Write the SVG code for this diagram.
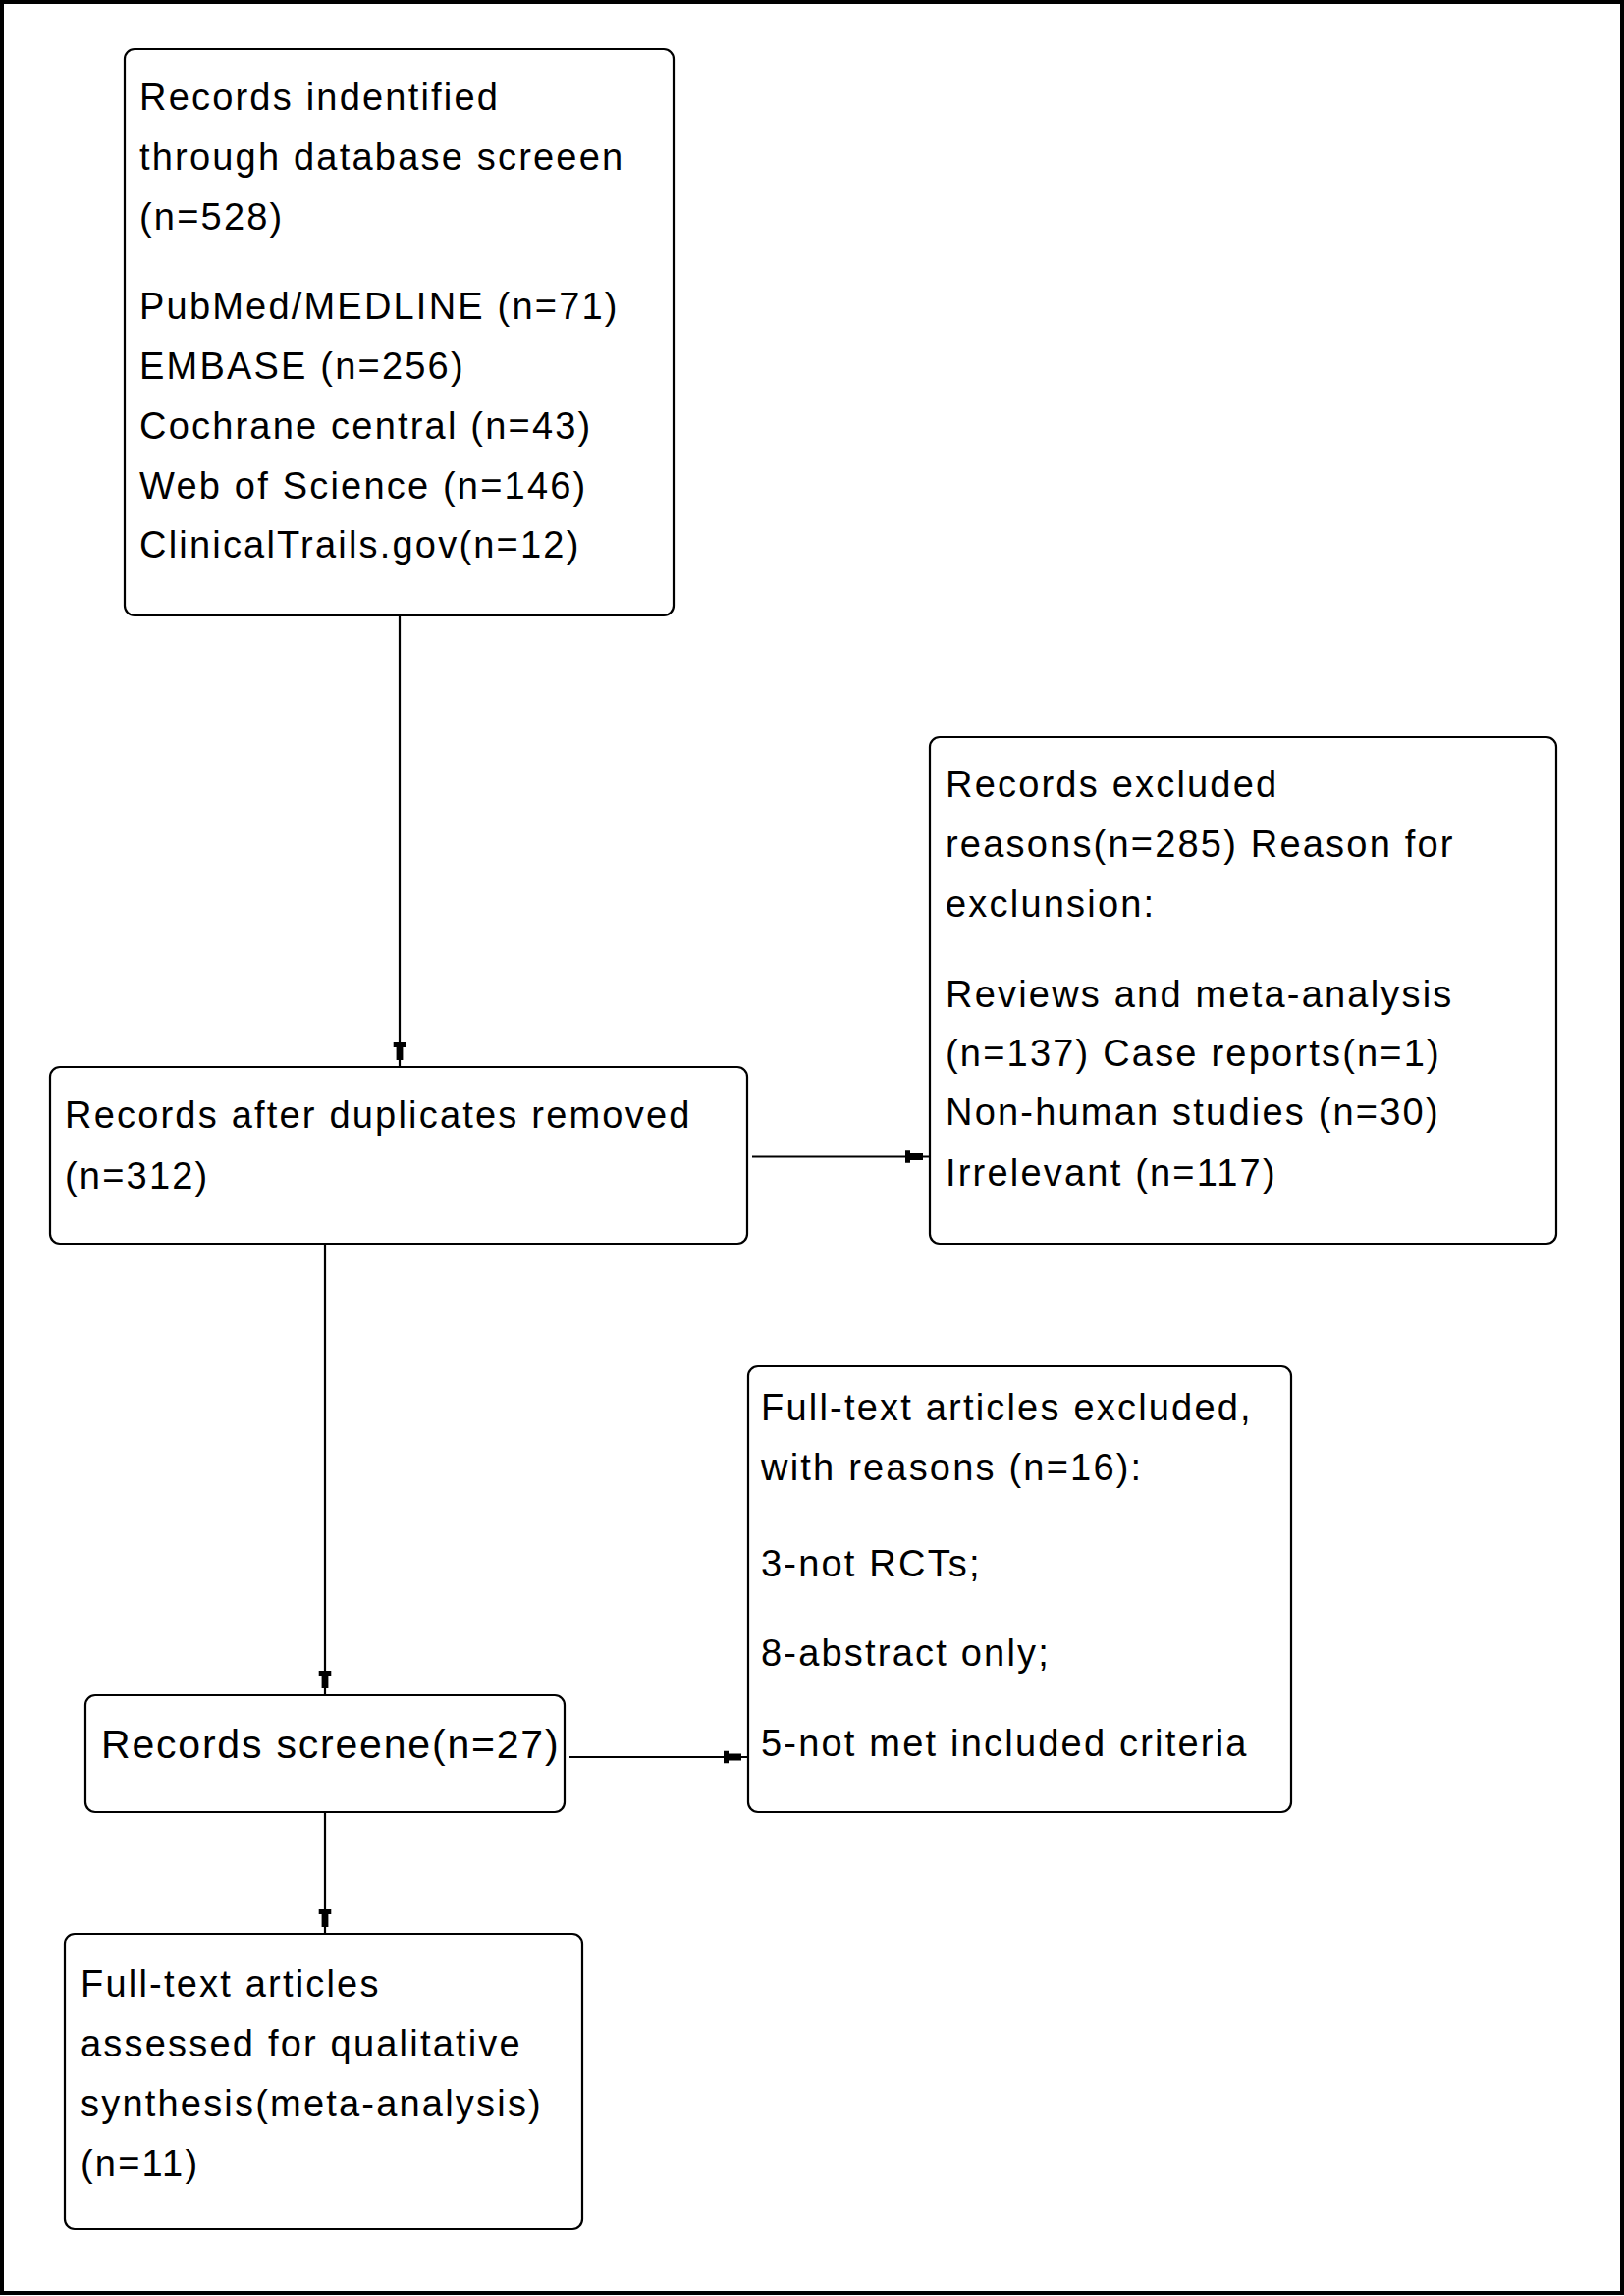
<svg xmlns="http://www.w3.org/2000/svg" width="1654" height="2339" viewBox="0 0 1654 2339">
<style>
.frame{fill:#fff;stroke:#000;stroke-width:4}
.box{fill:#fff;stroke:#000;stroke-width:2.2}
.t{font-family:"Liberation Sans",Arial,sans-serif;font-size:38px;letter-spacing:2.2px;fill:#000}
.big{font-size:41px;letter-spacing:1.8px}
.c{fill:none;stroke:#000;stroke-width:2.2}
</style>
<defs>
<marker id="ah" markerUnits="userSpaceOnUse" viewBox="-27 -8 28 16" markerWidth="28" markerHeight="16" refX="0" refY="0" orient="auto">
<path d="M-25,-6.3 H-20 V-3.4 H-7 V3.4 H-20 V6.3 H-25 Z" fill="#000"/>
</marker>
</defs>
<rect class="frame" x="2" y="2" width="1650" height="2334"/>
<g id="connectors">
<line class="c" x1="407" y1="627" x2="407" y2="1087" marker-end="url(#ah)"/>
<line class="c" x1="766" y1="1178.5" x2="947" y2="1178.5" marker-end="url(#ah)"/>
<line class="c" x1="331" y1="1267" x2="331" y2="1727" marker-end="url(#ah)"/>
<line class="c" x1="580" y1="1790" x2="762" y2="1790" marker-end="url(#ah)"/>
<line class="c" x1="331" y1="1846" x2="331" y2="1970" marker-end="url(#ah)"/>
</g>
<g id="identified">
<rect class="box" x="127" y="50" width="559" height="577" rx="10"/>
<text class="t" x="142" y="112">Records indentified</text>
<text class="t" x="142" y="173">through database screeen</text>
<text class="t" x="142" y="234">(n=528)</text>
<text class="t" x="142" y="325">PubMed/MEDLINE (n=71)</text>
<text class="t" x="142" y="386">EMBASE (n=256)</text>
<text class="t" x="142" y="447">Cochrane central (n=43)</text>
<text class="t" x="142" y="508">Web of Science (n=146)</text>
<text class="t" x="142" y="568">ClinicalTrails.gov(n=12)</text>
</g>
<g id="duplicates">
<rect class="box" x="51" y="1087" width="710" height="180" rx="10"/>
<text class="t" x="66" y="1149">Records after duplicates removed</text>
<text class="t" x="66" y="1211">(n=312)</text>
</g>
<g id="excluded">
<rect class="box" x="947" y="751" width="638" height="516" rx="10"/>
<text class="t" x="963" y="812">Records excluded</text>
<text class="t" x="963" y="873">reasons(n=285) Reason for</text>
<text class="t" x="963" y="934">exclunsion:</text>
<text class="t" x="963" y="1026">Reviews and meta-analysis</text>
<text class="t" x="963" y="1086">(n=137) Case reports(n=1)</text>
<text class="t" x="963" y="1146">Non-human studies (n=30)</text>
<text class="t" x="963" y="1208">Irrelevant (n=117)</text>
</g>
<g id="fulltext-excluded">
<rect class="box" x="762" y="1392" width="553" height="454" rx="10"/>
<text class="t" x="775" y="1447">Full-text articles excluded,</text>
<text class="t" x="775" y="1508">with reasons (n=16):</text>
<text class="t" x="775" y="1606">3-not RCTs;</text>
<text class="t" x="775" y="1697">8-abstract only;</text>
<text class="t" x="775" y="1789">5-not met included criteria</text>
</g>
<g id="screened">
<rect class="box" x="87" y="1727" width="488" height="119" rx="10"/>
<text class="t big" x="103" y="1791">Records screene(n=27)</text>
</g>
<g id="included">
<rect class="box" x="66" y="1970" width="527" height="301" rx="10"/>
<text class="t" x="82" y="2034">Full-text articles</text>
<text class="t" x="82" y="2095">assessed for qualitative</text>
<text class="t" x="82" y="2156">synthesis(meta-analysis)</text>
<text class="t" x="82" y="2217">(n=11)</text>
</g>
</svg>
